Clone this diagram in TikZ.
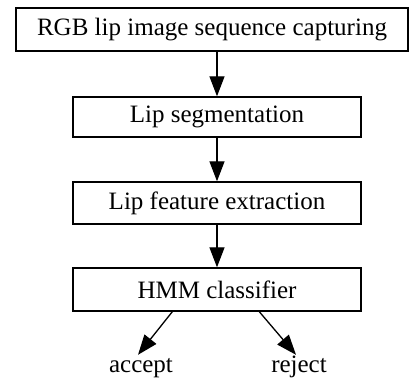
\documentclass[tikz,border=0pt]{standalone}
\usepackage{fontspec}
\setmainfont{Liberation Serif}
\usetikzlibrary{arrows.meta}
\begin{document}
\begin{tikzpicture}[x=1pt,y=-1pt,
  box/.style={draw,line width=1.4pt,inner sep=0pt,font=\fontsize{25}{30}\selectfont},
  lbl/.style={inner sep=0pt,font=\fontsize{25}{30}\selectfont},
  arr/.style={line width=1.3pt,-{Triangle[length=20pt,width=15pt]}}]
\useasboundingbox (0,0) rectangle (409,381);
\node[box,minimum width=392pt,minimum height=43pt] (rgb) at (212,29.5) {RGB lip image sequence capturing};
\node[box,minimum width=288pt,minimum height=40pt] (seg) at (217,117) {Lip segmentation};
\node[box,minimum width=288pt,minimum height=42pt] (feat) at (217,203) {Lip feature extraction};
\node[box,minimum width=288pt,minimum height=43pt] (hmm) at (217,289.5) {HMM classifier};
\node[lbl,text height=17pt,text depth=5pt] (acc) at (141,366) {accept};
\node[lbl,text height=17pt,text depth=5pt] (rej) at (299,366) {reject};
\draw[arr] (rgb.south -| seg.south) -- (seg.north);
\draw[arr] (seg.south) -- (feat.north);
\draw[arr] (feat.south) -- (hmm.north);
\draw[arr] ([xshift=100pt]hmm.south west) -- ([xshift=-3pt]acc.north);
\draw[arr] ([xshift=187pt]hmm.south west) -- ([xshift=-3pt]rej.north);
\end{tikzpicture}
\end{document}
